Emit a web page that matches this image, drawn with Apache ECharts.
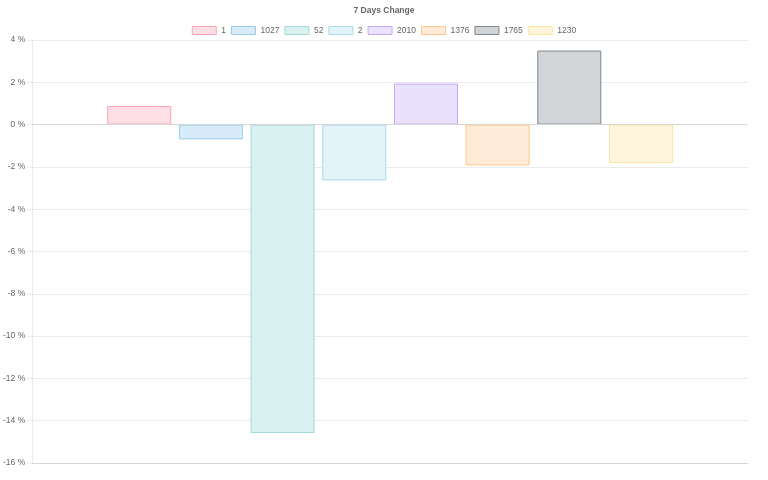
<!DOCTYPE html>
<html>
<head>
<meta charset="utf-8">
<script src="https://cdn.jsdelivr.net/npm/echarts@6/dist/echarts.min.js"></script>
<style>html,body{margin:0;padding:0;background:#fff}#c{width:768px;height:480px}</style>
</head>
<body>
<div id="c"></div>
<script>
var titleText = '7 Days Change';
var categories = [''];
var seriesNames = ['1', '1027', '52', '2', '2010', '1376', '1765', '1230'];
var seriesValues = [0.88, -0.70, -14.58, -2.64, 1.94, -1.93, 3.50, -1.82];
var fillColors = ['#ffdfe6', '#d7ebf9', '#daf1f1', '#e2f3fa', '#eae1fe', '#ffebd8', '#d2d5d8', '#fff4dc'];
var borderColors = ['#ffa3b6', '#9acbeb', '#a3d9d9', '#abdaeb', '#c6a9f9', '#ffc68f', '#80868e', '#ffe3a0'];
var yTicks = {min: -16, max: 4, interval: 2};

var fontFam = '"Liberation Sans", Arial, sans-serif';
var series = seriesNames.map(function (n, i) {
  var s = {
    name: n,
    type: 'bar',
    data: [seriesValues[i]],
    barWidth: 64,
    barGap: '12%',
    itemStyle: {color: fillColors[i], borderColor: borderColors[i], borderWidth: 1},
    emphasis: {disabled: true}
  };
  if (i === 0) {
    s.markLine = {
      silent: true, symbol: 'none', label: {show: false},
      lineStyle: {color: '#d6d6d6', type: 'solid', width: 1},
      data: [{yAxis: 0}]
    };
  }
  return s;
});

var chart = echarts.init(document.getElementById('c'));
chart.setOption({
  animation: false,
  title: {
    text: titleText, left: 'center', top: 1,
    textStyle: {fontFamily: fontFam, fontSize: 8.5, fontWeight: 'bold', color: '#666'}
  },
  legend: {
    top: 21, left: 'center', itemWidth: 24, itemHeight: 8, itemGap: 5,
    icon: 'rect',
    itemStyle: {borderWidth: 1},
    textStyle: {fontFamily: fontFam, fontSize: 8.5, color: '#666'},
    data: seriesNames
  },
  grid: {left: 31, right: 20, top: 40, bottom: 17, containLabel: false},
  xAxis: {
    type: 'category', data: categories,
    axisLine: {onZero: false, lineStyle: {color: '#d6d6d6'}},
    axisTick: {show: false}, axisLabel: {show: false},
    splitLine: {show: false}
  },
  yAxis: {
    type: 'value', min: yTicks.min, max: yTicks.max, interval: yTicks.interval,
    axisLine: {show: true, lineStyle: {color: '#ebebeb'}},
    axisTick: {show: true, length: 5, lineStyle: {color: '#ebebeb'}},
    axisLabel: {formatter: '{value} %', color: '#666', fontFamily: fontFam, fontSize: 8.5, margin: 7},
    splitLine: {lineStyle: {color: '#ebebeb'}}
  },
  series: series
});
</script>
</body>
</html>
